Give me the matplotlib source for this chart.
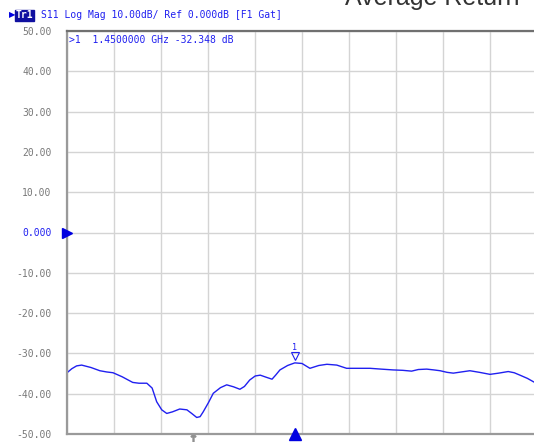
"""
Recreate a VNA screen capture: S11 log magnitude trace with marker readout.
"""

import matplotlib.pyplot as plt
from matplotlib.patches import Rectangle

# frequency sweep (GHz) and S11 magnitude (dB)
FREQ_GHZ = [0.500, 0.520, 0.540, 0.561, 0.600, 0.637, 0.665, 0.692, 0.730,
            0.774, 0.800, 0.833, 0.855, 0.874, 0.895, 0.916, 0.940, 0.970,
            1.000, 1.020, 1.041, 1.055, 1.068, 1.090, 1.110, 1.140, 1.166,
            1.195, 1.221, 1.240, 1.262, 1.285, 1.306, 1.330, 1.355, 1.370,
            1.388, 1.420, 1.450, 1.480, 1.513, 1.550, 1.584, 1.625, 1.666,
            1.710, 1.764, 1.810, 1.860, 1.900, 1.937, 1.965, 2.000, 2.030,
            2.056, 2.085, 2.111, 2.145, 2.180, 2.220, 2.264, 2.300, 2.340,
            2.365, 2.389, 2.420, 2.444, 2.460]
S11_DB = [-34.8, -33.8, -33.1, -32.9, -33.5, -34.3, -34.6, -34.8, -35.8,
          -37.2, -37.4, -37.4, -38.6, -42.0, -44.0, -44.9, -44.5, -43.8,
          -44.0, -44.9, -45.9, -45.7, -44.5, -42.2, -39.9, -38.5, -37.8,
          -38.3, -38.9, -38.2, -36.6, -35.6, -35.4, -35.9, -36.4, -35.4,
          -34.1, -33.0, -32.35, -32.5, -33.7, -33.0, -32.7, -32.9, -33.7,
          -33.7, -33.7, -33.9, -34.1, -34.2, -34.4, -34.0, -33.9, -34.1,
          -34.3, -34.7, -34.9, -34.6, -34.3, -34.7, -35.2, -34.9, -34.5,
          -34.8, -35.4, -36.2, -37.0, -37.5]

Y_TICKS = [50, 40, 30, 20, 10, 0, -10, -20, -30, -40, -50]
Y_LABELS = ['50.00', '40.00', '30.00', '20.00', '10.00', '0.000',
            '-10.00', '-20.00', '-30.00', '-40.00', '-50.00']

F_START, F_STOP = 0.5, 2.46
MARKER_FREQ, MARKER_DB = 1.45, -32.348
GATE_FREQ = 1.025
HEADER = 'S11 Log Mag 10.00dB/ Ref 0.000dB [F1 Gat]'
READOUT = '>1  1.4500000 GHz -32.348 dB'

BLUE = '#2020f0'
MONO = 'DejaVu Sans Mono'


def plot_trace():
    fig = plt.figure(figsize=(5.34, 4.42), dpi=100)
    ax = fig.add_axes([67 / 534, 8 / 442, 470 / 534, 403 / 442])
    ax.set_xlim(F_START, F_STOP)
    ax.set_ylim(-50, 50)

    # 10 x 10 graticule
    step = (F_STOP - F_START) / 10
    ax.set_xticks([F_START + i * step for i in range(11)])
    ax.set_xticklabels([])
    ax.set_yticks(Y_TICKS)
    ax.set_yticklabels(Y_LABELS, family=MONO, fontsize=7)
    for lab in ax.get_yticklabels():
        lab.set_color(BLUE if lab.get_text() == '0.000' else '#787878')
    ax.tick_params(length=0, pad=11)
    ax.grid(color='#d4d4d4', linewidth=1.0)
    ax.set_axisbelow(True)
    ax.spines['top'].set_color('#707070')
    ax.spines['top'].set_linewidth(1.6)
    for side in ['left', 'bottom']:
        ax.spines[side].set_color('#9a9a9a')
        ax.spines[side].set_linewidth(1.6)
    ax.spines['right'].set_visible(False)

    ax.plot(FREQ_GHZ, S11_DB, color=BLUE, linewidth=1.0)

    # marker 1 glyph and stimulus triangle
    ax.plot([MARKER_FREQ], [MARKER_DB + 1.6], marker='v', markersize=6,
            markerfacecolor='none', markeredgecolor=BLUE, markeredgewidth=0.8)
    ax.text(MARKER_FREQ, MARKER_DB + 2.8, '1', color=BLUE, fontsize=6,
            family=MONO, ha='center', va='bottom')
    ax.plot([MARKER_FREQ], [-50], marker='^', markersize=8, color='#0000e0',
            clip_on=False, zorder=5)
    ax.plot([GATE_FREQ], [-50.9], marker=r'$\uparrow$', markersize=6,
            color='#909090', clip_on=False)
    ax.plot([F_START], [0], marker='>', markersize=7, color='#0000e0',
            clip_on=False, zorder=5)

    ax.text(0.005, 0.99, READOUT, transform=ax.transAxes, color=BLUE,
            fontsize=7, family=MONO, ha='left', va='top')

    # channel header
    fig.text(9 / 534, 1 - 15 / 442, '\u25B6', color='#0000e0', fontsize=6,
             ha='left', va='center')
    fig.patches.append(Rectangle((15 / 534, 1 - 21 / 442), 19 / 534, 11 / 442,
                                 transform=fig.transFigure, color='#1010a0'))
    fig.text(16 / 534, 1 - 15 / 442, 'Tr1', color='white', fontsize=7,
             family=MONO, weight='bold', ha='left', va='center')
    fig.text(41 / 534, 1 - 15 / 442, HEADER, color=BLUE, fontsize=7,
             family=MONO, ha='left', va='center')

    fig.text(345 / 534, 1 - 5 / 442, 'Average Return', color='#333333',
             fontsize=18, family='Liberation Sans', ha='left', va='baseline')

    fig.savefig('out.png', dpi=100)


if __name__ == '__main__':
    plot_trace()
